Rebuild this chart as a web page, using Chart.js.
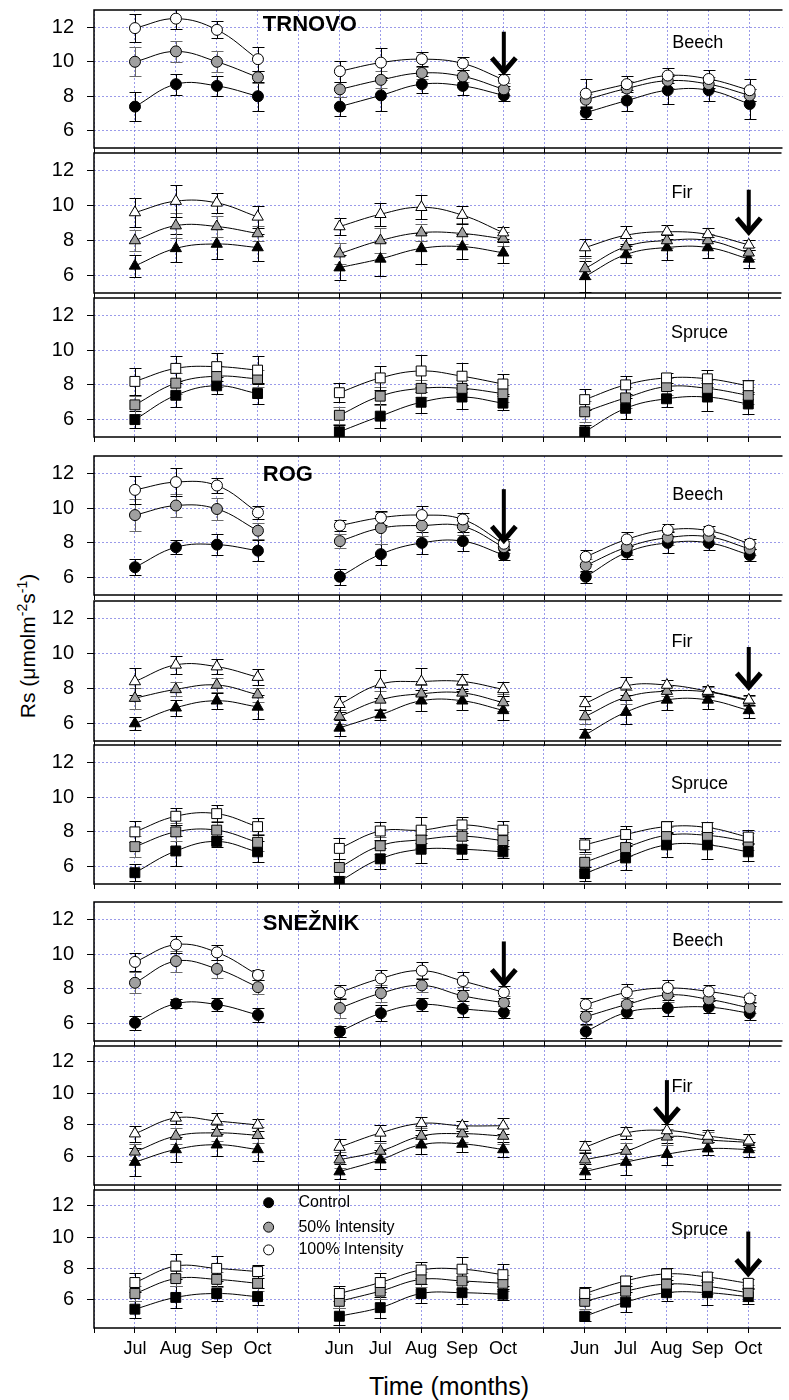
<!DOCTYPE html>
<html><head><meta charset="utf-8">
<script src="https://cdn.jsdelivr.net/npm/chart.js@4.4.1/dist/chart.umd.min.js"></script>
<style>
html,body{margin:0;padding:0;background:#fff;}
body{position:relative;width:789px;height:1400px;overflow:hidden;font-family:"Liberation Sans",Arial,sans-serif;}
canvas{position:absolute;left:0;}
#ytitle{position:absolute;left:27px;top:646px;transform:translate(-50%,-50%) rotate(-90deg);white-space:nowrap;font-size:21px;color:#000;line-height:1;}
#ytitle sup{font-size:14px;line-height:0;vertical-align:super;}
#xtitle{position:absolute;left:449px;top:1386px;transform:translate(-50%,-50%);white-space:nowrap;font-size:25px;color:#000;line-height:1;}
</style></head><body>
<div id="ytitle">Rs (μmolm<sup>-2</sup>s<sup>-1</sup>)</div>
<div id="xtitle">Time (months)</div>
<script>
const FAMILY = '"Liberation Sans", Arial, sans-serif';
Chart.defaults.font.family = FAMILY;

// ---------- axis data ----------
const xTickValues = [-1,0,1,2,3,4,5,6,7,8,9,10,11,12,13,14,15];
const xTickLabels = ['','Jul','Aug','Sep','Oct','','Jun','Jul','Aug','Sep','Oct','','Jun','Jul','Aug','Sep','Oct'];
const monthX = [0,1,2,3,5,6,7,8,9,11,12,13,14,15];
const yTickValues = [6,8,10,12];
const seriesNames = ['Control','50% Intensity','100% Intensity'];
const siteNames = ['TRNOVO','ROG','SNEŽNIK'];
const speciesNames = ['Beech','Fir','Spruce'];

// ---------- values (Rs) ----------
const trnovoBeechCtrl = [7.4,8.7,8.6,8.0, 7.4,8.05,8.7,8.6,8.05, 7.05,7.75,8.35,8.35,7.55];
const trnovoBeech50   = [10.0,10.6,10.0,9.1, 8.4,8.95,9.35,9.15,8.4, 7.8,8.45,8.9,8.7,8.05];
const trnovoBeech100  = [11.95,12.5,11.85,10.15, 9.45,9.95,10.15,9.9,8.95, 8.15,8.7,9.2,9.0,8.35];
const trnovoFirCtrl   = [6.55,7.55,7.8,7.6, 6.45,6.95,7.55,7.65,7.3, 5.95,7.2,7.6,7.6,6.95];
const trnovoFir50     = [8.0,8.85,8.8,8.4, 7.25,8.0,8.45,8.4,8.1, 6.4,7.65,8.0,8.0,7.3];
const trnovoFir100    = [9.6,10.25,10.15,9.35, 8.8,9.5,9.9,9.45,8.45, 7.6,8.3,8.5,8.35,7.75];
const trnovoSpruceCtrl= [6.0,7.4,7.95,7.5, 5.3,6.2,7.0,7.3,6.95, 5.3,6.65,7.2,7.3,6.9];
const trnovoSpruce50  = [6.85,8.1,8.5,8.35, 6.25,7.35,7.8,7.8,7.5, 6.45,7.25,7.9,7.8,7.4];
const trnovoSpruce100 = [8.2,8.95,9.05,8.85, 7.55,8.4,8.8,8.5,8.05, 7.15,8.0,8.4,8.35,7.95];
const rogBeechCtrl    = [6.6,7.75,7.9,7.55, 6.05,7.35,8.0,8.1,7.3, 6.05,7.45,8.0,8.0,7.3];
const rogBeech50      = [9.6,10.15,9.95,8.7, 8.1,8.85,9.0,8.95,7.75, 6.7,7.75,8.3,8.35,7.65];
const rogBeech100     = [11.05,11.5,11.3,9.75, 9.0,9.45,9.6,9.35,7.95, 7.2,8.2,8.75,8.7,7.95];
const rogFirCtrl      = [6.0,6.9,7.3,6.95, 5.75,6.5,7.3,7.3,6.75, 5.35,6.65,7.35,7.35,6.75];
const rogFir50        = [7.45,7.95,8.2,7.65, 6.4,7.35,7.7,7.75,7.2, 6.4,7.5,7.85,7.8,7.3];
const rogFir100       = [8.4,9.35,9.25,8.65, 7.1,8.25,8.4,8.4,7.95, 7.15,8.15,8.2,7.85,7.35];
const rogSpruceCtrl   = [5.65,6.9,7.45,6.85, 5.15,6.45,7.0,7.0,6.85, 5.6,6.5,7.25,7.25,6.85];
const rogSpruce50     = [7.15,8.0,8.1,7.4, 5.95,7.2,7.55,7.75,7.5, 6.25,7.1,7.8,7.8,7.45];
const rogSpruce100    = [8.0,8.9,9.05,8.3, 7.05,8.05,8.1,8.4,8.1, 7.25,7.85,8.3,8.25,7.7];
const snezBeechCtrl   = [6.05,7.15,7.1,6.5, 5.55,6.6,7.1,6.85,6.65, 5.55,6.65,6.9,6.95,6.6];
const snezBeech50     = [8.35,9.6,9.15,8.1, 6.9,7.75,8.2,7.6,7.2, 6.4,7.1,7.65,7.4,6.9];
const snezBeech100    = [9.55,10.55,10.1,8.8, 7.8,8.6,9.05,8.45,7.8, 7.1,7.8,8.05,7.85,7.45];
const snezFirCtrl     = [5.65,6.45,6.75,6.45, 5.05,5.8,6.75,6.8,6.45, 5.05,5.65,6.15,6.5,6.45];
const snezFir50       = [6.3,7.3,7.5,7.35, 5.8,6.35,7.3,7.45,7.3, 5.8,6.35,7.25,7.05,6.9];
const snezFir100      = [7.45,8.45,8.25,8.0, 6.6,7.5,8.1,7.95,7.95, 6.6,7.5,7.65,7.3,7.0];
const snezSpruceCtrl  = [5.4,6.15,6.4,6.2, 4.95,5.5,6.4,6.45,6.35, 4.95,5.85,6.45,6.45,6.2];
const snezSpruce50    = [6.4,7.35,7.3,7.05, 5.9,6.55,7.3,7.2,7.05, 5.9,6.55,7.0,6.85,6.45];
const snezSpruce100   = [7.1,8.15,8.0,7.8, 6.4,7.1,7.9,7.95,7.6, 6.4,7.2,7.65,7.45,7.05];

// ---------- error bars (+/-) ----------
const eTrnovoBeechCtrl = [0.85,0.6,0.6,0.85, 0.55,0.9,0.5,0.55,0.35, 0.35,0.6,0.8,0.6,0.85];
const eTrnovoBeech50   = [0.85,0.6,0.6,0.35, 0.45,0.5,0.35,0.35,0.35, 0.35,0.45,0.4,0.4,0.35];
const eTrnovoBeech100  = [0.8,0.6,0.5,0.7, 0.6,0.85,0.4,0.35,0.35, 0.85,0.45,0.45,0.5,0.65];
const eTrnovoFirCtrl   = [0.65,0.8,0.85,0.75, 0.7,0.95,0.9,0.7,0.6, 0.9,0.5,0.7,0.6,0.5];
const eTrnovoFir50     = [0.6,0.7,0.6,0.4, 0.6,0.7,0.5,0.6,0.4, 0.6,0.5,0.4,0.4,0.35];
const eTrnovoFir100    = [0.85,0.9,0.55,0.65, 0.5,0.65,0.7,0.5,0.35, 0.5,0.5,0.4,0.35,0.3];
const eTrnovoSpruceCtrl= [0.5,0.7,0.5,0.6, 0.4,0.7,0.6,0.7,0.4, 0.4,0.6,0.5,0.8,0.6];
const eTrnovoSpruce50  = [0.5,0.6,0.6,0.5, 0.5,0.5,0.5,0.5,0.5, 0.6,0.6,0.5,0.5,0.5];
const eTrnovoSpruce100 = [0.8,0.7,0.8,0.8, 0.55,0.7,0.9,0.75,0.6, 0.6,0.5,0.3,0.5,0.35];
const eRogBeechCtrl    = [0.45,0.4,0.6,0.6, 0.45,0.6,0.65,0.55,0.3, 0.35,0.35,0.6,0.4,0.35];
const eRogBeech50      = [0.9,0.65,0.65,0.45, 0.4,0.9,0.6,0.5,0.35, 0.35,0.45,0.4,0.4,0.35];
const eRogBeech100     = [0.8,0.8,0.45,0.4, 0.3,0.4,0.55,0.35,0.3, 0.4,0.4,0.35,0.3,0.3];
const eRogFirCtrl      = [0.35,0.45,0.45,0.7, 0.45,0.3,0.6,0.55,0.55, 0.35,0.7,0.55,0.5,0.45];
const eRogFir50        = [0.6,0.4,0.4,0.4, 0.4,0.5,0.5,0.45,0.5, 0.4,0.4,0.3,0.3,0.3];
const eRogFir100       = [0.75,0.5,0.45,0.45, 0.45,0.8,0.75,0.45,0.4, 0.4,0.5,0.3,0.3,0.3];
const eRogSpruceCtrl   = [0.5,0.85,0.3,0.6, 0.3,0.6,0.8,0.55,0.35, 0.4,0.7,0.7,0.8,0.5];
const eRogSpruce50     = [0.6,0.5,0.5,0.5, 0.5,0.5,0.5,0.5,0.5, 0.5,0.5,0.5,0.5,0.5];
const eRogSpruce100    = [0.6,0.5,0.5,0.5, 0.6,0.5,0.75,0.45,0.55, 0.4,0.5,0.3,0.3,0.4];
const eSnezBeechCtrl   = [0.4,0.25,0.35,0.4, 0.3,0.45,0.35,0.45,0.35, 0.4,0.35,0.45,0.35,0.4];
const eSnezBeech50     = [0.6,0.6,0.5,0.4, 0.6,0.5,0.4,0.5,0.4, 0.5,0.4,0.4,0.4,0.3];
const eSnezBeech100    = [0.5,0.5,0.45,0.3, 0.4,0.5,0.5,0.5,0.35, 0.35,0.5,0.45,0.4,0.2];
const eSnezFirCtrl     = [0.9,0.8,0.7,0.7, 0.5,0.6,0.6,0.5,0.5, 0.5,0.8,0.7,0.4,0.5];
const eSnezFir50       = [0.5,0.5,0.5,0.5, 0.5,0.5,0.5,0.5,0.5, 0.5,0.5,0.5,0.5,0.5];
const eSnezFir100      = [0.5,0.4,0.5,0.4, 0.5,0.5,0.4,0.3,0.5, 0.4,0.4,0.4,0.4,0.4];
const eSnezSpruceCtrl  = [0.55,0.7,0.5,0.55, 0.55,0.65,0.6,0.7,0.35, 0.3,0.65,0.55,0.8,0.5];
const eSnezSpruce50    = [0.5,0.5,0.5,0.5, 0.4,0.5,0.5,0.5,0.5, 0.5,0.5,0.5,0.5,0.5];
const eSnezSpruce100   = [0.6,0.8,0.8,0.4, 0.5,0.6,0.5,0.8,0.7, 0.4,0.3,0.4,0.3,0.3];

// ---------- annotations (in data units) ----------
const yMinByPanel = [5,5,5,5,5,5,5,4.2,4.2];
const yMax = 13;
const arrowPanel = [0,1,3,4,6,7,8];
const arrowX     = [9,15,9,15,9,13,15];
const arrowTop   = [11.74,10.9,11.09,10.37,10.73,10.84,10.35];
const arrowTip   = [9.24,8.31,7.97,7.9,8.13,8.0,7.48];
const siteLabelX = 3.12;
const siteLabelY = [12.13,11.93,11.73];
const speciesLabelX = 13.11;
const speciesLabelY = [11.09,10.7,10.98,10.74,10.66,10.74,10.73,10.42,10.46];
const legendMarkerX = 3.27, legendTextX = 4.0;
const legendY = [12.19,10.63,9.18];

const panelValues = [
  [trnovoBeechCtrl,trnovoBeech50,trnovoBeech100],
  [trnovoFirCtrl,trnovoFir50,trnovoFir100],
  [trnovoSpruceCtrl,trnovoSpruce50,trnovoSpruce100],
  [rogBeechCtrl,rogBeech50,rogBeech100],
  [rogFirCtrl,rogFir50,rogFir100],
  [rogSpruceCtrl,rogSpruce50,rogSpruce100],
  [snezBeechCtrl,snezBeech50,snezBeech100],
  [snezFirCtrl,snezFir50,snezFir100],
  [snezSpruceCtrl,snezSpruce50,snezSpruce100]
];
const panelErrors = [
  [eTrnovoBeechCtrl,eTrnovoBeech50,eTrnovoBeech100],
  [eTrnovoFirCtrl,eTrnovoFir50,eTrnovoFir100],
  [eTrnovoSpruceCtrl,eTrnovoSpruce50,eTrnovoSpruce100],
  [eRogBeechCtrl,eRogBeech50,eRogBeech100],
  [eRogFirCtrl,eRogFir50,eRogFir100],
  [eRogSpruceCtrl,eRogSpruce50,eRogSpruce100],
  [eSnezBeechCtrl,eSnezBeech50,eSnezBeech100],
  [eSnezFirCtrl,eSnezFir50,eSnezFir100],
  [eSnezSpruceCtrl,eSnezSpruce50,eSnezSpruce100]
];

// ---------- layout / style ----------
const panelTop    = [10,153,298,456,601,745,902,1046,1190];
const panelBottom = [148,293,437,595,741,884,1041,1185,1328];
const PADT = 30;
const shapes = ['circle','triangle','rect'];
const radius = {circle:5.5, triangle:6.5, rect:7};
const fills = ['#000000','#a0a0a0','#ffffff'];
const GRID = 'rgba(120,120,225,0.75)';

function toPoints(vals){
  const pts = [];
  vals.forEach((v,j)=>{
    if (j===4 || j===9) pts.push({x: monthX[j]-1, y: null});
    pts.push({x: monthX[j], y: v});
  });
  return pts;
}

function drawArrow(ctx, x, yTop, yTip){
  ctx.save();
  ctx.strokeStyle = '#000';
  ctx.lineWidth = 4;
  ctx.lineCap = 'butt';
  ctx.beginPath(); ctx.moveTo(x, yTop); ctx.lineTo(x, yTip - 3); ctx.stroke();
  ctx.lineWidth = 5;
  ctx.lineJoin = 'miter';
  ctx.beginPath(); ctx.moveTo(x - 12, yTip - 17); ctx.lineTo(x, yTip - 3); ctx.lineTo(x + 12, yTip - 17); ctx.stroke();
  ctx.restore();
}

const decorPlugin = {
  id: 'decor',
  beforeDatasetsDraw(chart, args, opts){
    const i = opts.panel, ctx = chart.ctx, xs = chart.scales.x, ys = chart.scales.y, ca = chart.chartArea;
    ctx.save();
    ctx.beginPath(); ctx.rect(ca.left, ca.top, ca.right - ca.left, ca.bottom - ca.top); ctx.clip();
    for (let s = 0; s < 3; s++){
      const vals = panelValues[i][s], errs = panelErrors[i][s];
      ctx.strokeStyle = s === 1 ? '#6a6a6a' : '#000';
      ctx.lineWidth = 1;
      vals.forEach((v,j)=>{
        const x = Math.round(xs.getPixelForValue(monthX[j])) + 0.5;
        const y1 = Math.round(ys.getPixelForValue(v + errs[j])) + 0.5;
        const y2 = Math.round(ys.getPixelForValue(v - errs[j])) + 0.5;
        ctx.beginPath();
        ctx.moveTo(x, y1); ctx.lineTo(x, y2);
        ctx.moveTo(x - 6, y1); ctx.lineTo(x + 6, y1);
        ctx.moveTo(x - 6, y2); ctx.lineTo(x + 6, y2);
        ctx.stroke();
      });
    }
    ctx.restore();
  },
  afterDraw(chart, args, opts){
    const i = opts.panel, ctx = chart.ctx, xs = chart.scales.x, ys = chart.scales.y, ca = chart.chartArea;
    ctx.save();
    // frame lines (top, left, bottom)
    ctx.strokeStyle = '#000'; ctx.lineWidth = 1.5; ctx.setLineDash([]);
    ctx.beginPath();
    ctx.moveTo(ca.right, ca.top); ctx.lineTo(ca.left, ca.top);
    ctx.lineTo(ca.left, ca.bottom); ctx.lineTo(ca.right, ca.bottom);
    ctx.stroke();
    // site label
    if (i % 3 === 0){
      ctx.fillStyle = '#000'; ctx.font = 'bold 22px ' + FAMILY;
      ctx.textAlign = 'left'; ctx.textBaseline = 'middle';
      ctx.fillText(siteNames[i/3], xs.getPixelForValue(siteLabelX), ys.getPixelForValue(siteLabelY[i/3]));
    }
    // species label
    ctx.fillStyle = '#000'; ctx.font = '18px ' + FAMILY;
    ctx.textAlign = 'left'; ctx.textBaseline = 'middle';
    ctx.fillText(speciesNames[i % 3], xs.getPixelForValue(speciesLabelX), ys.getPixelForValue(speciesLabelY[i]));
    // arrows
    arrowPanel.forEach((p,k)=>{
      if (p === i) drawArrow(ctx, xs.getPixelForValue(arrowX[k]), ys.getPixelForValue(arrowTop[k]), ys.getPixelForValue(arrowTip[k]));
    });
    // legend
    if (i === 8){
      ctx.font = '16px ' + FAMILY;
      seriesNames.forEach((name,s)=>{
        const x = xs.getPixelForValue(legendMarkerX), y = ys.getPixelForValue(legendY[s]);
        ctx.beginPath(); ctx.arc(x, y, 5, 0, Math.PI*2);
        ctx.fillStyle = fills[s]; ctx.fill();
        ctx.strokeStyle = '#000'; ctx.lineWidth = 1; ctx.stroke();
        ctx.fillStyle = '#000';
        ctx.fillText(name, xs.getPixelForValue(legendTextX), y);
      });
    }
    ctx.restore();
  }
};

for (let i = 0; i < 9; i++){
  const isLast = i === 8;
  const extra = isLast ? 50 : 30;
  const h = panelBottom[i] - panelTop[i];
  const cv = document.createElement('canvas');
  cv.width = 789; cv.height = PADT + h + extra;
  cv.style.top = (panelTop[i] - PADT) + 'px';
  cv.style.width = '789px'; cv.style.height = cv.height + 'px';
  document.body.appendChild(cv);
  const shape = shapes[i % 3];
  const datasets = [0,1,2].map(s => ({
    label: seriesNames[s],
    data: toPoints(panelValues[i][s]),
    borderColor: '#000', borderWidth: 1, tension: 0.4, spanGaps: false,
    pointStyle: shape, pointRadius: radius[shape],
    pointBackgroundColor: fills[s], pointBorderColor: '#000', pointBorderWidth: 1,
    order: 2 - s
  }));
  new Chart(cv, {
    type: 'line',
    data: { datasets },
    options: {
      responsive: false, animation: false, devicePixelRatio: 1,
      layout: { padding: { top: PADT, left: 0, right: 0, bottom: 0 } },
      plugins: { legend: { display: false }, tooltip: { enabled: false }, decor: { panel: i } },
      scales: {
        x: {
          type: 'linear', min: -1, max: 15.8,
          afterBuildTicks: s => { s.ticks = xTickValues.map(v => ({ value: v })); },
          afterFit: s => { s.height = extra; },
          ticks: {
            display: isLast, autoSkip: false, maxRotation: 0, minRotation: 0, padding: 5,
            color: '#000', font: { size: 18, family: FAMILY },
            callback: v => { const k = xTickValues.indexOf(Math.round(v)); return k >= 0 ? xTickLabels[k] : ''; }
          },
          grid: { color: GRID, lineWidth: 1, tickColor: '#000', tickLength: 5, tickWidth: 1, tickBorderDash: [0,0] },
          border: { display: false, dash: [2,2] }
        },
        y: {
          min: yMinByPanel[i], max: yMax,
          afterBuildTicks: s => { s.ticks = yTickValues.map(v => ({ value: v })); },
          afterFit: s => { s.width = 94; },
          ticks: { color: '#000', padding: 13, font: { size: 20, family: FAMILY }, callback: v => String(v) },
          grid: { color: GRID, lineWidth: 1, tickColor: '#000', tickLength: 7, tickWidth: 1, tickBorderDash: [0,0] },
          border: { display: false, dash: [2,2] }
        }
      }
    },
    plugins: [decorPlugin]
  });
}
</script></body></html>
